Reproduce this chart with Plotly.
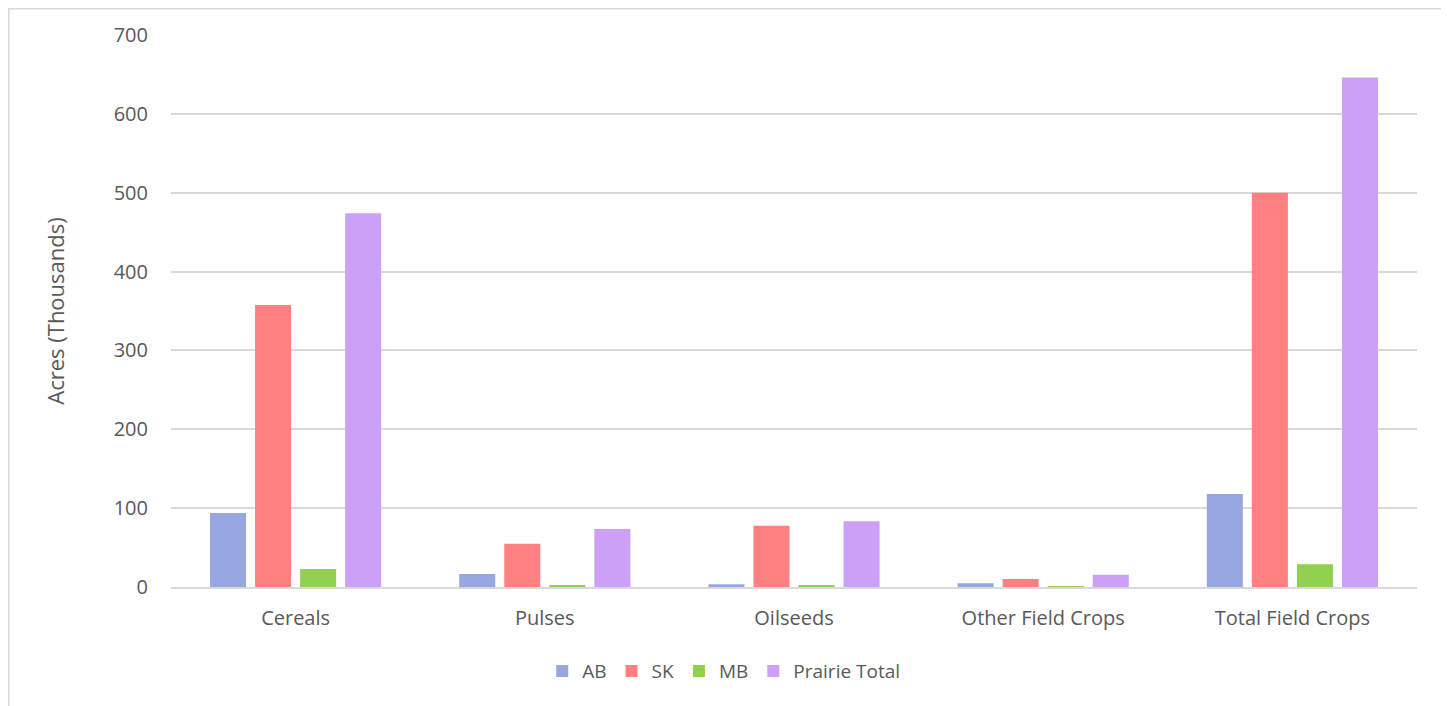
import plotly.graph_objects as go

categories = ["Cereals", "Pulses", "Oilseeds", "Other Field Crops", "Total Field Crops"]
ab = [93.8, 16.5, 3.4, 4.7, 118]
sk = [357.6, 55, 77.7, 10, 500]
mb = [22.8, 2.5, 2.5, 1, 29]
prairie_total = [474, 73.5, 83.3, 15.6, 646]

series = [
    ("AB", ab, "#97A8E0"),
    ("SK", sk, "#FF8080"),
    ("MB", mb, "#92D050"),
    ("Prairie Total", prairie_total, "#CCA0F6"),
]

font_family = "Open Sans, Noto Sans, sans-serif"
txt = "#595959"

fig = go.Figure()
for name, vals, color in series:
    fig.add_trace(go.Bar(x=categories, y=vals, name=name, marker_color=color,
                         marker_line_width=0))

W, H = 1441, 698
L, R, T, B = 163, 32, 27, 119
pw, ph = W - L - R, H - T - B

fig.update_layout(
    width=W, height=H,
    barmode="group", bargap=0.277, bargroupgap=0.2,
    plot_bgcolor="white", paper_bgcolor="white",
    margin=dict(l=L, r=R, t=T, b=B, autoexpand=False),
    font=dict(family=font_family, size=19, color=txt),
    xaxis=dict(showgrid=False, showline=True, linecolor="#D9D9D9", linewidth=1.5,
               ticks="", ticklabelstandoff=12, tickfont=dict(size=20, color=txt)),
    yaxis=dict(range=[0, 700], dtick=100, showgrid=True, gridcolor="#D9D9D9",
               gridwidth=1.5, zeroline=False, ticks="", ticklabelstandoff=22,
               tickfont=dict(size=20, color=txt),
               title=dict(text="Acres (Thousands)", font=dict(size=22, color=txt),
                          standoff=42)),
    legend=dict(orientation="h", x=0.4436, xanchor="center", y=-0.118, yanchor="top",
                font=dict(size=19, color=txt), itemwidth=30,
                traceorder="normal"),
    shapes=[dict(type="rect", xref="paper", yref="paper",
                 x0=(0.75 - L) / pw, x1=(1437.6 - L) / pw,
                 y0=(H - B - H - 5) / ph, y1=(H - B - 0.75) / ph,
                 line=dict(color="#D9D9D9", width=1.5), fillcolor="rgba(0,0,0,0)",
                 layer="below")],
)

fig.write_html("out.html")
